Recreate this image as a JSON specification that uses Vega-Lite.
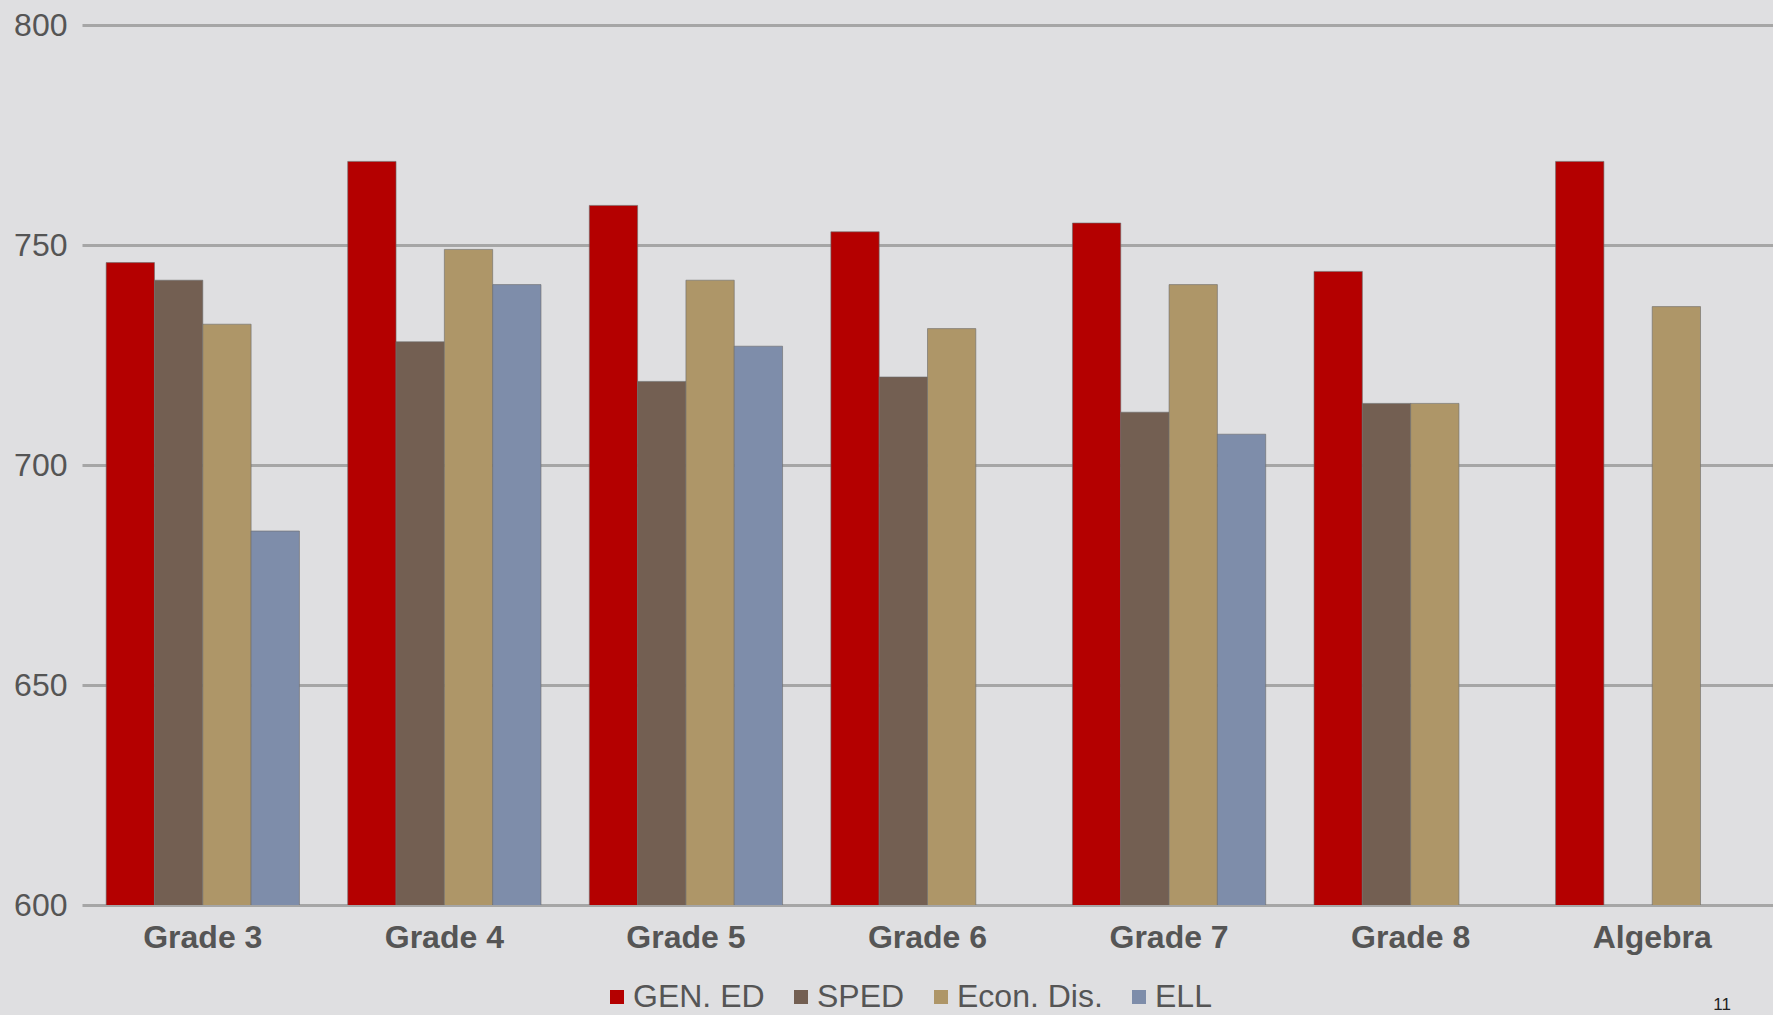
{
  "$schema": "https://vega.github.io/schema/vega-lite/v6.json",
  "width": 1691,
  "height": 880,
  "autosize": "none",
  "padding": {"left": 82, "top": 25, "right": 0, "bottom": 110},
  "background": "#dfdfe1",
  "config": {
    "view": {"stroke": null, "fill": "#dfdfe1"},
    "font": "Liberation Sans"
  },
  "title": {
    "text": "11",
    "orient": "bottom",
    "anchor": "end",
    "fontSize": 17,
    "fontWeight": "normal",
    "font": "Liberation Sans",
    "color": "#222222",
    "offset": -16,
    "dx": -42
  },
  "data": {
    "values": [
      {"grade": "Grade 3", "group": "GEN. ED", "score": 746},
      {"grade": "Grade 3", "group": "SPED", "score": 742},
      {"grade": "Grade 3", "group": "Econ. Dis.", "score": 732},
      {"grade": "Grade 3", "group": "ELL", "score": 685},
      {"grade": "Grade 4", "group": "GEN. ED", "score": 769},
      {"grade": "Grade 4", "group": "SPED", "score": 728},
      {"grade": "Grade 4", "group": "Econ. Dis.", "score": 749},
      {"grade": "Grade 4", "group": "ELL", "score": 741},
      {"grade": "Grade 5", "group": "GEN. ED", "score": 759},
      {"grade": "Grade 5", "group": "SPED", "score": 719},
      {"grade": "Grade 5", "group": "Econ. Dis.", "score": 742},
      {"grade": "Grade 5", "group": "ELL", "score": 727},
      {"grade": "Grade 6", "group": "GEN. ED", "score": 753},
      {"grade": "Grade 6", "group": "SPED", "score": 720},
      {"grade": "Grade 6", "group": "Econ. Dis.", "score": 731},
      {"grade": "Grade 7", "group": "GEN. ED", "score": 755},
      {"grade": "Grade 7", "group": "SPED", "score": 712},
      {"grade": "Grade 7", "group": "Econ. Dis.", "score": 741},
      {"grade": "Grade 7", "group": "ELL", "score": 707},
      {"grade": "Grade 8", "group": "GEN. ED", "score": 744},
      {"grade": "Grade 8", "group": "SPED", "score": 714},
      {"grade": "Grade 8", "group": "Econ. Dis.", "score": 714},
      {"grade": "Algebra", "group": "GEN. ED", "score": 769},
      {"grade": "Algebra", "group": "Econ. Dis.", "score": 736}
    ]
  },
  "mark": {"type": "bar", "clip": true, "stroke": "#6b6b6b", "strokeWidth": 1, "strokeOpacity": 0.6},
  "encoding": {
    "x": {
      "field": "grade",
      "type": "nominal",
      "sort": ["Grade 3", "Grade 4", "Grade 5", "Grade 6", "Grade 7", "Grade 8", "Algebra"],
      "scale": {"paddingInner": 0.2, "paddingOuter": 0.1},
      "axis": {
        "title": null,
        "labelAngle": 0,
        "ticks": false,
        "domain": false,
        "labelFont": "Liberation Sans",
        "labelFontSize": 32,
        "labelFontWeight": "bold",
        "labelColor": "#555555",
        "labelPadding": 17
      }
    },
    "xOffset": {
      "field": "group",
      "type": "nominal",
      "scale": {"domain": ["GEN. ED", "SPED", "Econ. Dis.", "ELL"], "paddingInner": 0, "paddingOuter": 0}
    },
    "y": {
      "field": "score",
      "type": "quantitative",
      "scale": {"domain": [600, 800], "zero": false, "nice": false},
      "axis": {
        "title": null,
        "values": [600, 650, 700, 750, 800],
        "ticks": false,
        "domain": false,
        "grid": true,
        "gridColor": "#a6a6a6",
        "gridWidth": 3,
        "gridOpacity": 1,
        "labelFontSize": 32,
        "labelColor": "#555555",
        "labelPadding": 15
      }
    },
    "color": {
      "field": "group",
      "type": "nominal",
      "scale": {
        "domain": ["GEN. ED", "SPED", "Econ. Dis.", "ELL"],
        "range": ["#b40000", "#735f52", "#ae9668", "#7e8daa"]
      },
      "legend": {
        "title": null,
        "orient": "none",
        "direction": "horizontal",
        "legendX": 519,
        "legendY": 956,
        "symbolType": "square",
        "symbolSize": 196,
        "symbolStrokeWidth": 0,
        "labelFont": "Liberation Sans",
        "labelFontSize": 32,
        "labelColor": "#555555",
        "labelOffset": 0,
        "columnPadding": 20
      }
    }
  }
}
